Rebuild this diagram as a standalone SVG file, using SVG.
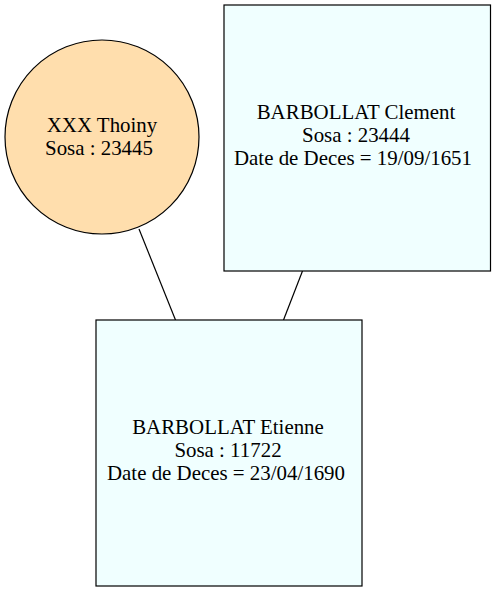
<svg xmlns="http://www.w3.org/2000/svg" width="496" height="592" viewBox="0 0 496 592">
<style>
text{font-family:"Liberation Serif","Times New Roman",serif;font-size:20.9px;fill:#000;text-anchor:middle}
.box{fill:#f0ffff;stroke:#000;stroke-width:1.2}
.circ{fill:#ffdead;stroke:#000;stroke-width:1.2}
.edge{stroke:#000;stroke-width:1.2;fill:none}
</style>
<rect width="496" height="592" fill="#fff"/>
<g id="edges">
<line class="edge" x1="139" y1="229" x2="175.5" y2="320"/>
<line class="edge" x1="302.5" y1="271" x2="283.5" y2="320"/>
</g>
<g id="thoiny">
<circle class="circ" cx="102" cy="137" r="97"/>
<text x="102" y="132">XXX Thoiny</text>
<text x="99" y="155">Sosa : 23445</text>
</g>
<g id="clement">
<rect class="box" x="224" y="5" width="266.5" height="266"/>
<text x="356" y="119">BARBOLLAT Clement</text>
<text x="356" y="142">Sosa : 23444</text>
<text x="353" y="165">Date de Deces = 19/09/1651</text>
</g>
<g id="etienne">
<rect class="box" x="96" y="320" width="266" height="266"/>
<text x="228" y="434">BARBOLLAT Etienne</text>
<text x="228" y="457">Sosa : 11722</text>
<text x="226" y="480">Date de Deces = 23/04/1690</text>
</g>
</svg>
